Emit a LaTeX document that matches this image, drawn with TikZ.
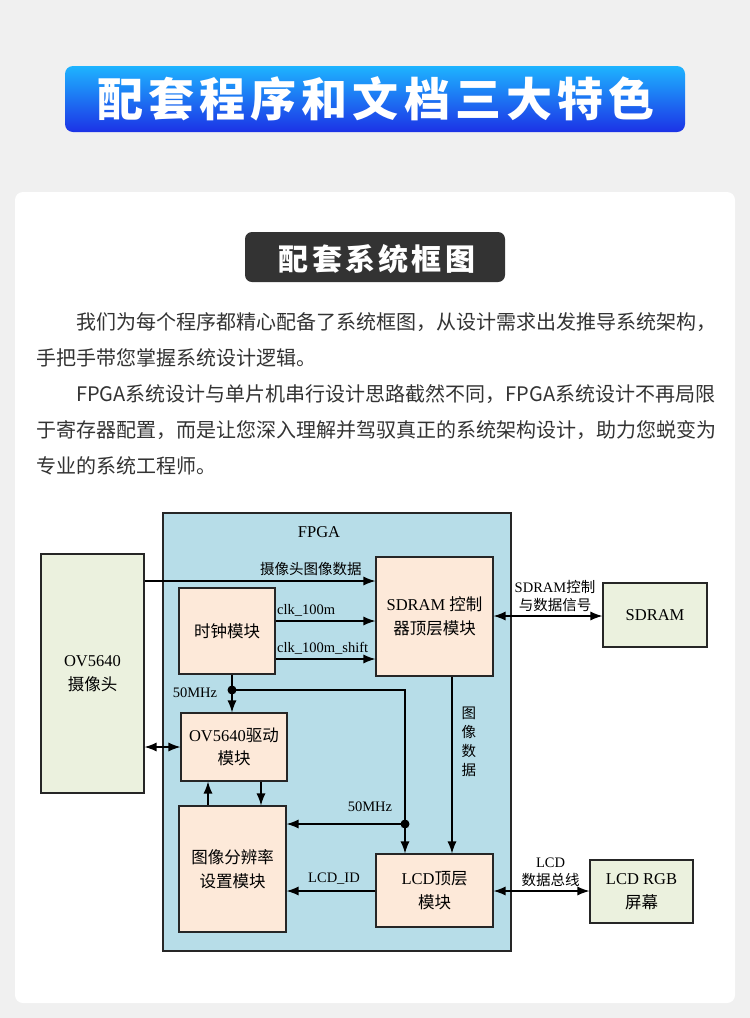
\documentclass[tikz,border=0pt]{standalone}
\usepackage{fontspec}
\setmainfont{Liberation Serif}
\newfontfamily\cjk{Noto Sans CJK SC}
\newfontfamily\cjkhead{Noto Sans CJK SC}[LetterSpace=11]
\usetikzlibrary{arrows.meta,calc}
\definecolor{pagebg}{HTML}{F0F0F0}
\definecolor{fpgablue}{HTML}{B7DDE8}
\definecolor{extgreen}{HTML}{EBF1DE}
\definecolor{modpink}{HTML}{FDE9D9}
\definecolor{headtop}{HTML}{1EB4FF}
\definecolor{headbot}{HTML}{1C32E6}
\definecolor{darkbar}{HTML}{333333}
\definecolor{bodytext}{HTML}{333333}
\newcommand{\zh}[1]{{\cjk #1}}
\tikzset{
  blk/.style={draw=black!85, line width=1.1pt, align=center, inner sep=0pt,
    font=\fontsize{16.5}{23.5}\selectfont},
  modbox/.style={blk, fill=modpink},
  extbox/.style={blk, fill=extgreen},
  fpgabox/.style={blk, fill=fpgablue},
  lbl/.style={inner sep=1pt, font=\fontsize{14.5}{18}\selectfont},
  wire/.style={line width=1.2pt},
  head/.style={anchor=base, text=white, inner sep=0pt,
    font=\cjkhead\bfseries\fontsize{46}{46}\selectfont},
  subhead/.style={anchor=base, text=white, inner sep=0pt,
    font=\cjkhead\bfseries\fontsize{30}{30}\selectfont},
  para/.style={anchor=base west, text=bodytext, inner sep=0pt,
    font=\cjk\fontsize{20}{20}\selectfont}
}
\begin{document}
\begin{tikzpicture}[x=1pt,y=-1pt,>={Latex[length=12pt,width=9pt]}]
% page, card and banners
\fill[pagebg] (0,0) rectangle (750,1018);
\fill[white, rounded corners=8pt] (15,192) rectangle (735,1003);
\shade[top color=headtop, bottom color=headbot, rounded corners=8pt] (65,66) rectangle (685,132);
\node[head] (title) at (376,116) {配套程序和文档三大特色};
\fill[darkbar, rounded corners=7pt] (245,232) rectangle (505,282);
\node[subhead] (subtitle) at (377,270.5) {配套系统框图};
% intro text
\node[para] (p1) at (76,329.5) {我们为每个程序都精心配备了系统框图，从设计需求出发推导系统架构，};
\node[para] (p2) at (36,365.5) {手把手带您掌握系统设计逻辑。};
\node[para] (p3) at (76,401.5) {FPGA系统设计与单片机串行设计思路截然不同，FPGA系统设计不再局限};
\node[para] (p4) at (36,437.5) {于寄存器配置，而是让您深入理解并驾驭真正的系统架构设计，助力您蜕变为};
\node[para] (p5) at (36,473.5) {专业的系统工程师。};
% block diagram
\node[fpgabox, minimum width=348pt, minimum height=438pt] (fpga) at (337,732) {};
\node[lbl, font=\fontsize{16.5}{18}\selectfont] (fpgatxt) at (319,532) {FPGA};
\node[extbox, minimum width=103pt, minimum height=239pt] (cam) at (92.5,673.5) {OV5640\\\zh{摄像头}};
\node[modbox, minimum width=117pt, minimum height=119pt] (sdc) at (434.5,616.5) {SDRAM \zh{控制}\\\zh{器顶层模块}};
\node[modbox, minimum width=96pt, minimum height=86pt] (clk) at (227,631) {\zh{时钟模块}};
\node[modbox, minimum width=106pt, minimum height=68pt] (drv) at (234,747) {OV5640\zh{驱动}\\\zh{模块}};
\node[modbox, minimum width=107pt, minimum height=126pt] (res) at (232.5,869) {\zh{图像分辨率}\\\zh{设置模块}};
\node[modbox, minimum width=117pt, minimum height=73pt] (lcd) at (434.5,890.5) {LCD\zh{顶层}\\\zh{模块}};
\node[extbox, minimum width=104pt, minimum height=64pt] (sdram) at (655,615) {SDRAM};
\node[extbox, minimum width=103pt, minimum height=63pt] (rgb) at (641.5,891.5) {LCD RGB\\\zh{屏幕}};
\coordinate (j1) at (232,690);
\coordinate (j2) at (405,824);
% connectors
\draw[wire,->] (cam.east |- 0,581) -- (sdc.west |- 0,581)
  node[lbl, pos=0.72, above=4pt] (camlbl) {\zh{摄像头图像数据}};
\draw[wire,->] (clk.east |- 0,621) -- (sdc.west |- 0,621)
  node[lbl, pos=0, anchor=south west, yshift=3pt] (clka) {clk\_100m};
\draw[wire,->] (clk.east |- 0,659) -- (sdc.west |- 0,659)
  node[lbl, pos=0, anchor=south west, yshift=3pt] (clkb) {clk\_100m\_shift};
\draw[wire,<->] (sdc.east |- 0,616) -- (sdram.west |- 0,616)
  node[lbl, midway, above=3pt, xshift=7pt, align=center] (sdrlbl) {SDRAM\zh{控制}\\\zh{与数据信号}};
\draw[wire] (clk.south -| j1) -- (j1);
\draw[wire,->] (j1) -- (drv.north -| j1);
\draw[wire] (j1) -| (j2);
\draw[wire,->] (j2) -- (res.east |- j2);
\draw[wire,->] (j2) -- (lcd.north -| j2);
\fill (j1) circle (4.5pt);
\fill (j2) circle (4.5pt);
\node[lbl] (mhza) at (195,693) {50MHz};
\node[lbl] (mhzb) at (370,807) {50MHz};
\draw[wire,->] (sdc.south -| 452,0) -- (lcd.north -| 452,0)
  node[lbl, pos=0.37, right=8pt, align=center, font=\cjk\fontsize{14.5}{19}\selectfont] (imglbl) {图\\像\\数\\据};
\draw[wire,<->] (cam.east |- drv.west) -- (drv.west);
\draw[wire,->] (res.north -| 208,0) -- (drv.south -| 208,0);
\draw[wire,->] (drv.south -| 261,0) -- (res.north -| 261,0);
\draw[wire,->] (lcd.west |- 0,891) -- (res.east |- 0,891)
  node[lbl, midway, above=5pt, xshift=3pt] (idlbl) {LCD\_ID};
\draw[wire,<->] (lcd.east |- 0,891) -- (rgb.west |- 0,891)
  node[lbl, midway, above=3pt, xshift=9pt, align=center] (buslbl) {LCD\\\zh{数据总线}};
\end{tikzpicture}
\end{document}
